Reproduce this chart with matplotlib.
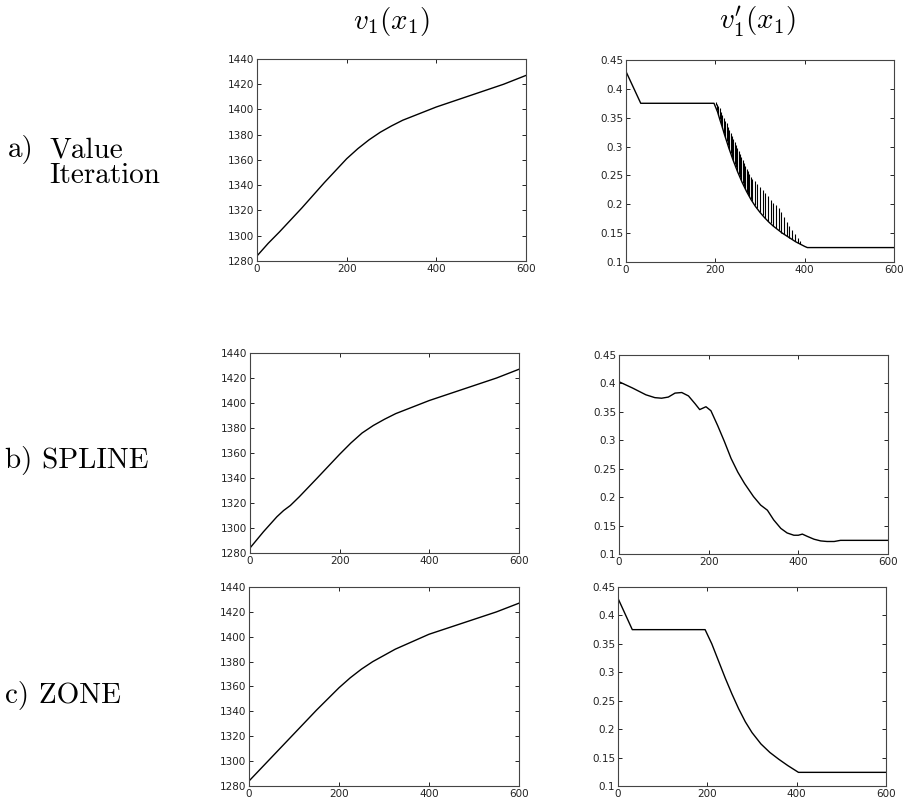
import matplotlib
matplotlib.use("Agg")
import matplotlib.pyplot as plt
from matplotlib.ticker import FuncFormatter

plt.rcParams['mathtext.fontset'] = 'cm'

# --- Data ---
# left column: value function v1(x1)
vi_x = [0, 25, 50, 100, 150, 200, 225, 250, 275, 300, 325, 350, 375, 400, 450, 500, 550, 600]
vi_v = [1284, 1294, 1303, 1322, 1342, 1361, 1369, 1376, 1382, 1387, 1391.5, 1395,
        1398.5, 1402, 1408, 1414, 1420, 1427]

sp_x = [0, 30, 60, 75, 90, 110, 150, 200, 225, 250, 275, 300, 325, 350, 375, 400,
        450, 500, 550, 600]
sp_v = [1284, 1297, 1309, 1314, 1318, 1325, 1340, 1359, 1368, 1376, 1382, 1387,
        1391.5, 1395, 1398.5, 1402, 1408, 1414, 1420, 1427]

zn_x = [0, 50, 100, 150, 200, 225, 250, 275, 300, 325, 350, 375, 400, 450, 500, 550, 600]
zn_v = [1284, 1303, 1322, 1341, 1359, 1367, 1374, 1380, 1385, 1390, 1394, 1398,
        1402, 1408, 1414, 1420, 1427]

# right column: derivative v1'(x1)
vi_dx = [0, 33, 197, 205, 210, 215, 220, 225, 230, 240, 250, 260, 270, 280, 290,
         300, 310, 320, 330, 340, 350, 360, 370, 380, 390, 400, 406, 600]
vi_dv = [0.43, 0.375, 0.375, 0.36, 0.347, 0.335, 0.322, 0.31, 0.298, 0.276, 0.256,
         0.238, 0.222, 0.208, 0.196, 0.186, 0.177, 0.169, 0.162, 0.156, 0.150,
         0.145, 0.140, 0.135, 0.131, 0.127, 0.125, 0.125]

# oscillation spikes in the value-iteration derivative
spike_x = [201, 204, 207, 210, 213, 216, 219, 222, 225, 228, 231, 234, 237, 240,
           243, 246, 249, 252, 255, 258, 261, 264, 267, 270, 273, 276, 279, 282,
           288, 294, 300, 306, 312, 318, 324, 330, 336, 342, 348, 354, 360, 366,
           372, 378, 384, 390]
spike_lo = [0.372, 0.363, 0.355, 0.347, 0.339, 0.332, 0.324, 0.317, 0.310, 0.303,
            0.296, 0.289, 0.282, 0.276, 0.270, 0.264, 0.258, 0.252, 0.247, 0.242,
            0.237, 0.232, 0.227, 0.222, 0.218, 0.214, 0.210, 0.206,
            0.198, 0.193, 0.187, 0.182, 0.176, 0.171, 0.167, 0.163, 0.159, 0.155,
            0.151, 0.148, 0.145, 0.142, 0.139, 0.136, 0.133, 0.131]
spike_hi = [0.378, 0.374, 0.370, 0.366, 0.360, 0.355, 0.350, 0.345, 0.340, 0.334,
            0.329, 0.324, 0.318, 0.313, 0.308, 0.303, 0.297, 0.292, 0.287, 0.282,
            0.276, 0.271, 0.266, 0.262, 0.257, 0.252, 0.248, 0.244,
            0.240, 0.236, 0.230, 0.224, 0.219, 0.214, 0.208, 0.203, 0.198, 0.193,
            0.186, 0.178, 0.170, 0.162, 0.155, 0.148, 0.141, 0.136]

sp_dx = [0, 30, 60, 80, 95, 110, 125, 140, 155, 170, 180, 194, 205, 220, 235, 250,
         265, 280, 300, 316, 331, 345, 361, 375, 390, 400, 409, 420, 435, 450, 464,
         480, 494, 510, 600]
sp_dv = [0.403, 0.392, 0.380, 0.375, 0.374, 0.376, 0.383, 0.384, 0.378, 0.364,
         0.354, 0.359, 0.352, 0.326, 0.298, 0.268, 0.244, 0.224, 0.201, 0.186,
         0.177, 0.160, 0.145, 0.137, 0.133, 0.133, 0.135, 0.131, 0.126, 0.123,
         0.122, 0.122, 0.124, 0.124, 0.124]

zn_dx = [0, 32, 195, 210, 225, 240, 255, 270, 285, 300, 320, 340, 360, 380, 404, 600]
zn_dv = [0.43, 0.375, 0.375, 0.35, 0.32, 0.29, 0.262, 0.236, 0.213, 0.194, 0.174,
         0.159, 0.147, 0.136, 0.124, 0.124]

x_ticks = [0, 200, 400, 600]
v_ticks = [1280, 1300, 1320, 1340, 1360, 1380, 1400, 1420, 1440]
dv_ticks = [0.1, 0.15, 0.2, 0.25, 0.3, 0.35, 0.4, 0.45]

col_titles = [r'$v_1(x_1)$', r"$v_1'(x_1)$"]

# --- Figure ---
fig = plt.figure(figsize=(9.09, 8.02), dpi=100)
W, H = 909.0, 802.0

def place(x0, x1, y0, y1):
    # pixel box -> figure axes
    return fig.add_axes([x0 / W, 1 - y1 / H, (x1 - x0) / W, (y1 - y0) / H])

def style(ax, yticks, ylim):
    ax.set_xlim(0, 600)
    ax.set_ylim(*ylim)
    ax.set_xticks(x_ticks)
    ax.set_yticks(yticks)
    ax.yaxis.set_major_formatter(FuncFormatter(lambda v, p: f'{v:g}'))
    ax.tick_params(direction='in', length=3, width=0.7, top=True, right=True,
                   labelsize=7.5, pad=2, colors='#222222')
    for s in ax.spines.values():
        s.set_color('#444444')
        s.set_linewidth(0.8)

ax_a1 = place(257, 526, 59, 261)
ax_a2 = place(626, 894, 60, 262)
ax_b1 = place(250, 519, 353, 553)
ax_b2 = place(619, 888, 355, 554)
ax_c1 = place(249, 519, 587, 786)
ax_c2 = place(618, 886, 587, 786)

for ax in (ax_a1, ax_b1, ax_c1):
    style(ax, v_ticks, (1280, 1440))
for ax in (ax_a2, ax_b2, ax_c2):
    style(ax, dv_ticks, (0.1, 0.45))

lw = 1.0
ax_a1.plot(vi_x, vi_v, color='black', lw=lw)
ax_b1.plot(sp_x, sp_v, color='black', lw=lw)
ax_c1.plot(zn_x, zn_v, color='black', lw=lw)

ax_a2.plot(vi_dx, vi_dv, color='black', lw=lw)
ax_a2.vlines(spike_x, spike_lo, spike_hi, color='black', lw=0.8)
ax_b2.plot(sp_dx, sp_dv, color='black', lw=lw)
ax_c2.plot(zn_dx, zn_dv, color='black', lw=lw)

# column titles
fig.text(391 / W, 1 - 22 / H, col_titles[0], ha='center', va='center', fontsize=21)
fig.text(757 / W, 1 - 22 / H, col_titles[1], ha='center', va='center', fontsize=21)

# row labels
lab = dict(fontfamily='cmr10', fontsize=21, va='baseline', ha='left')
fig.text(8 / W, 1 - 157 / H, 'a)', **lab)
fig.text(49 / W, 1 - 157 / H, 'Value', **lab)
fig.text(49 / W, 1 - 183 / H, 'Iteration', **lab)
fig.text(5 / W, 1 - 468 / H, 'b) SPLINE', **lab)
fig.text(5 / W, 1 - 703 / H, 'c) ZONE', **lab)

fig.savefig('out.png', dpi=100)
